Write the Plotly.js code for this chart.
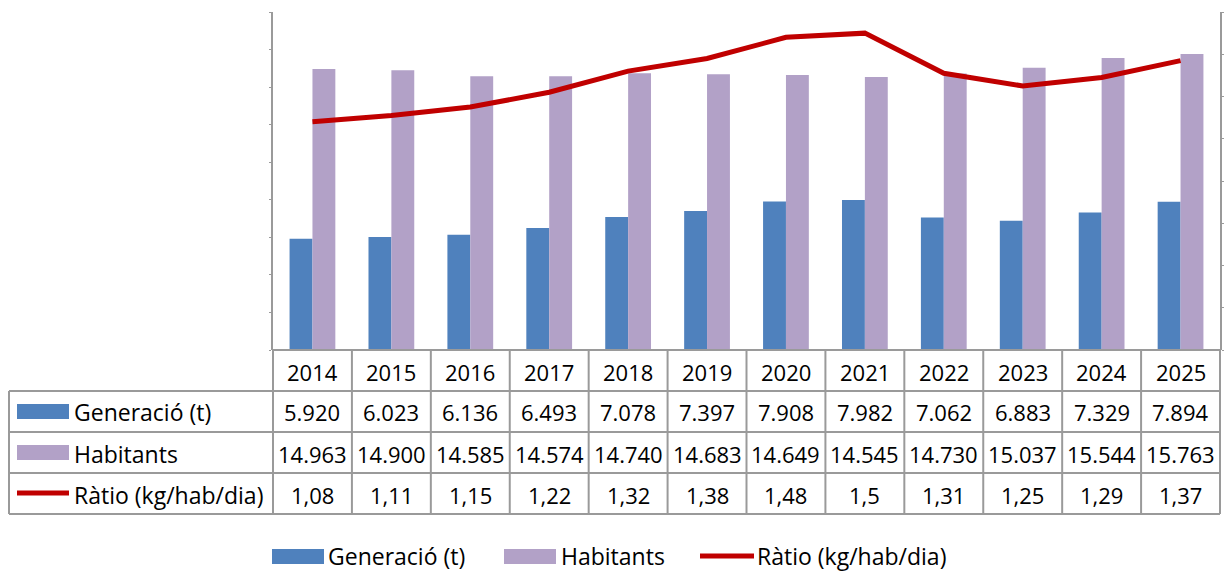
<!DOCTYPE html>
<html>
<head>
<meta charset="utf-8">
<script src="https://cdn.plot.ly/plotly-3.0.1.min.js"></script>
<style>html,body{margin:0;padding:0;background:#fff;}#chart{width:1224px;height:572px;}</style>
</head>
<body>
<div id="chart"></div>
<script>
const years = ['2014','2015','2016','2017','2018','2019','2020','2021','2022','2023','2024','2025'];
const generacio = [5920,6023,6136,6493,7078,7397,7908,7982,7062,6883,7329,7894];
const habitants = [14963,14900,14585,14574,14740,14683,14649,14545,14730,15037,15544,15763];
const ratio = [1.08,1.11,1.15,1.22,1.32,1.38,1.48,1.5,1.31,1.25,1.29,1.37];
const seriesNames = ['Generació (t)','Habitants','Ràtio (kg/hab/dia)'];

const W = 1224, H = 572;
const L = 273, R = 1220, T = 12, B = 350;
const pw = R - L, ph = B - T;
const px = x => (x - L) / pw;
const py = y => (B - y) / ph;

const cBlue = '#4F81BD', cPurple = '#B2A1C7', cRed = '#C00000', cGrid = '#9a9a9a';
const font = 'Open Sans, Noto Sans, sans-serif';
const fsNum = 22;
const fsLab = 23;

function fmtThousands(v){ return String(v).replace(/\B(?=(\d{3})+(?!\d))/g,'.'); }
function fmtRatio(v){ return String(v).replace('.',','); }

const traces = [
  {type:'bar', name:seriesNames[0], x:years, y:generacio, marker:{color:cBlue}, yaxis:'y', showlegend:false, hoverinfo:'skip'},
  {type:'bar', name:seriesNames[1], x:years, y:habitants, marker:{color:cPurple}, yaxis:'y', showlegend:false, hoverinfo:'skip'},
  {type:'scatter', mode:'lines', name:seriesNames[2], x:years, y:ratio, yaxis:'y2', line:{color:cRed, width:5}, showlegend:false, hoverinfo:'skip'}
];

const shapes = [];
const annotations = [];
const line = (x0,y0,x1,y1,color,width) => shapes.push({type:'line', xref:'paper', yref:'paper', x0:px(x0), y0:py(y0), x1:px(x1), y1:py(y1), line:{color:color||cGrid, width:width||2}});
const rect = (x0,y0,x1,y1,color) => shapes.push({type:'rect', xref:'paper', yref:'paper', x0:px(x0), y0:py(y0), x1:px(x1), y1:py(y1), fillcolor:color, line:{width:0}});

// table
const rowsY = [350, 391, 432, 473, 514];
const leftX = 9;
line(L, rowsY[0], R, rowsY[0]);
line(leftX, rowsY[1], R, rowsY[1]);
line(leftX, rowsY[2], R, rowsY[2]);
line(leftX, rowsY[3], R, rowsY[3]);
line(leftX, rowsY[4], R, rowsY[4]);
line(leftX, rowsY[1], leftX, rowsY[4]);
const cw = pw / years.length;
for (let i = 0; i <= years.length; i++) {
  const xx = L + i * cw;
  line(xx, rowsY[0], xx, rowsY[4]);
}

const rowData = [years, generacio.map(fmtThousands), habitants.map(fmtThousands), ratio.map(fmtRatio)];
rowData.forEach((row, r) => {
  const yc = (rowsY[r] + rowsY[r+1]) / 2 + 1;
  row.forEach((txt, i) => {
    annotations.push({xref:'paper', yref:'paper', x:(i + 0.5) / years.length, y:py(yc), text:txt, showarrow:false, xanchor:'center', yanchor:'middle', font:{family:font, size:fsNum, color:'#000'}});
  });
});

// legend keys in table
rect(17, 404, 69, 419, cBlue);
rect(17, 445, 69, 460, cPurple);
line(17, 493, 69, 493, cRed, 5);
[0,1,2].forEach(k => {
  const yc = (rowsY[k+1] + rowsY[k+2]) / 2 + 1;
  annotations.push({xref:'paper', yref:'paper', x:px(72), y:py(yc), text:seriesNames[k], showarrow:false, xanchor:'left', yanchor:'middle', font:{family:font, size:fsLab, color:'#000'}});
});

// bottom legend
const ly = 556;
rect(272, ly-7, 324, ly+8, cBlue);
annotations.push({xref:'paper', yref:'paper', x:px(326), y:py(ly), text:seriesNames[0], showarrow:false, xanchor:'left', yanchor:'middle', font:{family:font, size:fsLab, color:'#000'}});
rect(504, ly-7, 556, ly+8, cPurple);
annotations.push({xref:'paper', yref:'paper', x:px(559), y:py(ly), text:seriesNames[1], showarrow:false, xanchor:'left', yanchor:'middle', font:{family:font, size:fsLab, color:'#000'}});
line(700, ly, 754, ly, cRed, 5);
annotations.push({xref:'paper', yref:'paper', x:px(755), y:py(ly), text:seriesNames[2], showarrow:false, xanchor:'left', yanchor:'middle', font:{family:font, size:fsLab, color:'#000'}});

const layout = {
  width: W, height: H,
  margin: {l:L, r:W-R, t:T, b:H-B, pad:0},
  paper_bgcolor:'#fff', plot_bgcolor:'#fff',
  barmode:'group', bargap:0.42, bargroupgap:0,
  showlegend:false,
  xaxis:{type:'category', range:[-0.5, 11.5], showticklabels:false, showgrid:false, zeroline:false, showline:false, ticks:''},
  yaxis:{range:[0,18000], dtick:2000, showticklabels:false, showgrid:false, zeroline:false, showline:true, linecolor:cGrid, linewidth:2, ticks:'outside', ticklen:2, tickcolor:cGrid},
  yaxis2:{range:[0,1.6], dtick:0.2, overlaying:'y', side:'right', showticklabels:false, showgrid:false, zeroline:false, showline:true, linecolor:cGrid, linewidth:2, ticks:'outside', ticklen:2, tickcolor:cGrid},
  shapes: shapes,
  annotations: annotations,
  font:{family:font}
};

Plotly.newPlot('chart', traces, layout, {staticPlot:true, displayModeBar:false});
</script>
</body>
</html>
